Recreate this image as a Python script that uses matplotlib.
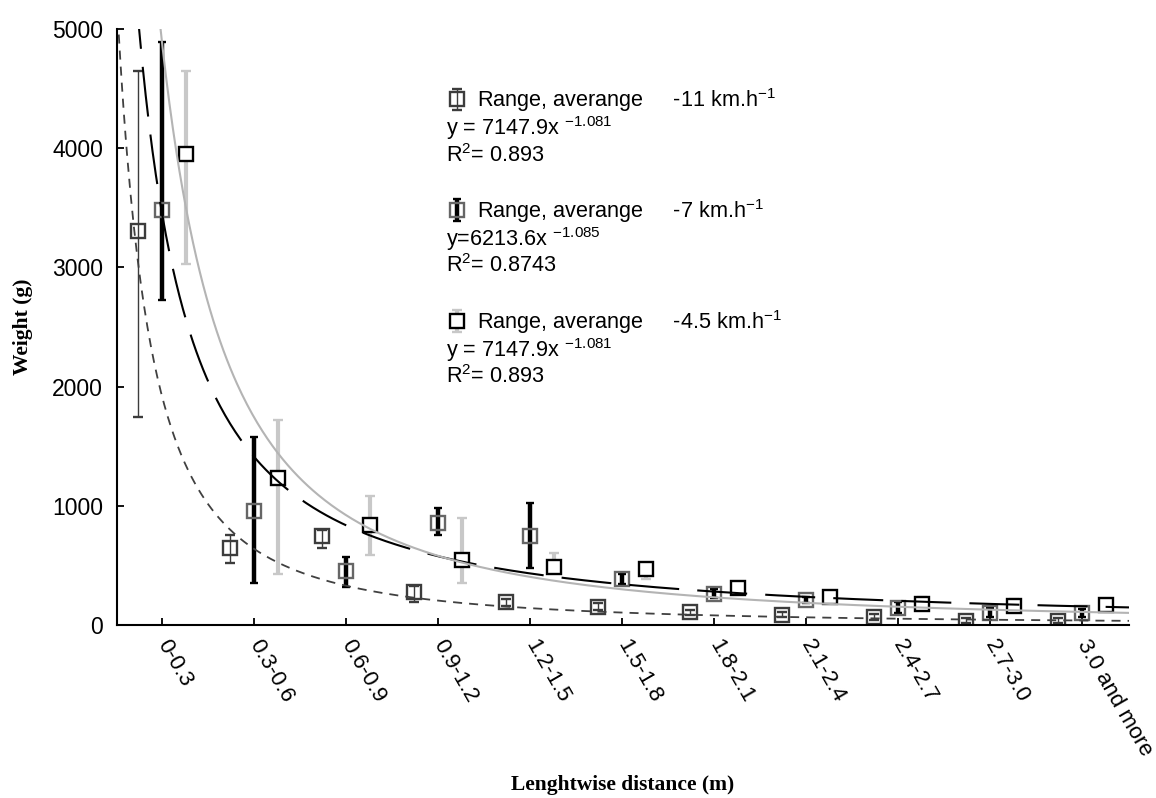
import matplotlib
matplotlib.use('Agg')
import matplotlib.pyplot as plt
import numpy as np

plt.rcParams['font.family'] = ['Liberation Sans', 'DejaVu Sans']

# categories along the lengthwise direction
categories = ['0-0.3', '0.3-0.6', '0.6-0.9', '0.9-1.2', '1.2-1.5', '1.5-1.8',
              '1.8-2.1', '2.1-2.4', '2.4-2.7', '2.7-3.0', '3.0 and more']

# -11 km/h : average, min, max (g)
avg_11 = [3305, 643, 749, 274, 190, 155, 105, 88, 68, 36, 36]
low_11 = [1742, 517, 643, 196, 160, 125, 80, 65, 45, 18, 18]
high_11 = [4648, 755, 800, 327, 220, 185, 130, 110, 90, 55, 55]

# -7 km/h
avg_7 = [3481, 959, 455, 858, 749, 386, 260, 210, 145, 103, 103]
low_7 = [2726, 355, 316, 755, 476, 344, 224, 185, 100, 65, 70]
high_7 = [4893, 1580, 573, 979, 1021, 430, 302, 235, 195, 140, 135]

# -4.5 km/h
avg_45 = [3951, 1236, 839, 545, 489, 470, 313, 232, 176, 159, 168]
low_45 = [3029, 425, 587, 350, 440, 390, 280, 200, 130, 115, 120]
high_45 = [4648, 1720, 1082, 900, 607, 510, 345, 265, 238, 218, 218]

# power trend curves as drawn: a * (x + c) ** -b
trend_11 = (2254, 1.7, 1.1)
trend_7 = (3450, 1.29, 1.0)
trend_45 = (6656, 1.7, 1.2)

fig = plt.figure(figsize=(11.56, 7.98), dpi=100)
ax = fig.add_axes([117/1156, 1-625/798, 1012/1156, 596/798])

x = np.arange(len(categories))
off = 0.26

def err(avg, lo, hi):
    avg = np.array(avg); lo = np.array(lo); hi = np.array(hi)
    return [avg - lo, hi - avg]

e11 = ax.errorbar(x - off, avg_11, yerr=err(avg_11, low_11, high_11), fmt='s',
                  ms=10.3, mfc='none', mec='#3c3c3c', mew=1.7,
                  ecolor='#3c3c3c', elinewidth=1.0, capsize=3.6, capthick=1.0)
e7 = ax.errorbar(x, avg_7, yerr=err(avg_7, low_7, high_7), fmt='s',
                 ms=10.3, mfc='none', mec='#666666', mew=1.7,
                 ecolor='black', elinewidth=3.2, capsize=3.0, capthick=2.5)
e45 = ax.errorbar(x + off, avg_45, yerr=err(avg_45, low_45, high_45), fmt='s',
                  ms=10.3, mfc='white', mec='black', mew=1.7,
                  ecolor='#c8c8c8', elinewidth=3.0, capsize=3.6, capthick=2.5)

xs = np.linspace(-0.49, 10.51, 600)
a, b, c = trend_11
ax.plot(xs, a * (xs + c) ** -b, color='#404040', lw=1.3, dashes=(5, 3.9), zorder=3)
a, b, c = trend_7
ax.plot(xs, a * (xs + c) ** -b, color='black', lw=1.5, dashes=(24, 8.7), zorder=3)
a, b, c = trend_45
ax.plot(xs, a * (xs + c) ** -b, color='#b4b4b4', lw=1.5, zorder=3)

ax.set_xlim(-0.49, 10.51)
ax.set_ylim(0, 5000)
ax.set_yticks(np.arange(0, 5001, 1000))
ax.set_xticks(x)
ax.set_xticklabels(categories)
ax.spines['top'].set_visible(False)
ax.spines['right'].set_visible(False)
for s in ['left', 'bottom']:
    ax.spines[s].set_linewidth(1.5)
ax.tick_params(direction='in', length=5, width=1.3, labelsize=16.5)
ax.tick_params(axis='y', pad=10)
ax.tick_params(axis='x', pad=12, labelsize=16)
plt.setp(ax.get_xticklabels(), rotation=-60, ha='left', va='center',
         rotation_mode='anchor')

ax.set_xlabel('Lenghtwise distance (m)', family='Liberation Serif',
              weight='bold', fontsize=15.5)
ax.xaxis.set_label_coords(0.5, -0.252)
ax.set_ylabel('Weight (g)', family='Liberation Serif', weight='bold', fontsize=15.5)
ax.yaxis.set_label_coords(-0.083, 0.5)

# legend blocks with equations
blocks = [
    (e11, 'Range, averange     -11 km.h$\\mathregular{^{-1}}$',
     'y = 7147.9x $\\mathregular{^{-1.081}}$', 'R$\\mathregular{^2}$= 0.893', 106),
    (e7, 'Range, averange     -7 km.h$\\mathregular{^{-1}}$',
     'y=6213.6x $\\mathregular{^{-1.085}}$', 'R$\\mathregular{^2}$= 0.8743', 216.7),
    (e45, 'Range, averange     -4.5 km.h$\\mathregular{^{-1}}$',
     'y = 7147.9x $\\mathregular{^{-1.081}}$', 'R$\\mathregular{^2}$= 0.893', 327.7),
]
fs = 15.6
for h, lab, eq, r2, base in blocks:
    lg = fig.legend([h], [lab], loc='center left',
                    bbox_to_anchor=(446/1156, 1 - (base - 6)/798),
                    frameon=False, fontsize=fs, handlelength=1.0,
                    handletextpad=0.45, borderpad=0, borderaxespad=0)
    fig.text(446.5/1156, 1 - (base + 29)/798, eq, fontsize=fs, va='baseline')
    fig.text(446.5/1156, 1 - (base + 55.7)/798, r2, fontsize=fs, va='baseline')

fig.savefig('out.png', dpi=100)
